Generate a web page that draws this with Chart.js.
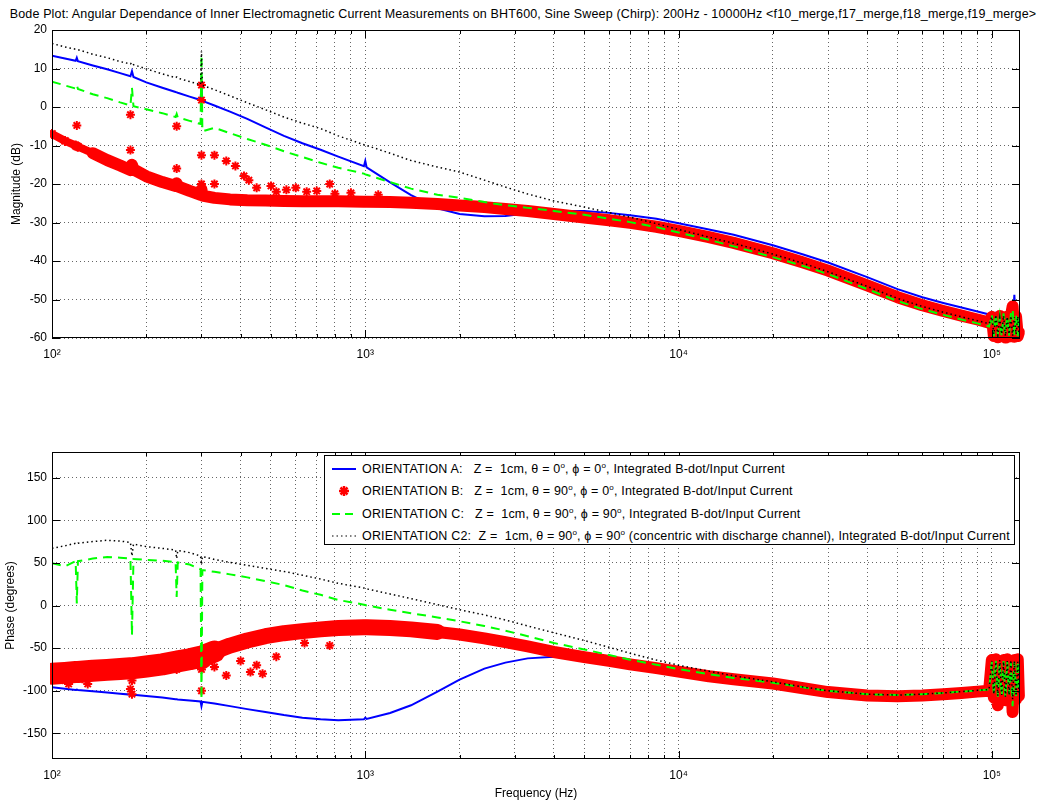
<!DOCTYPE html>
<html>
<head>
<meta charset="utf-8">
<script src="https://cdn.jsdelivr.net/npm/chart.js@4.4.1/dist/chart.umd.min.js"></script>
<style>
  html, body { margin: 0; padding: 0; background: #fff; }
  body { width: 1040px; height: 801px; position: relative; overflow: hidden;
         font-family: "Liberation Sans", Arial, sans-serif; color: #000; }
  #title { position: absolute; left: 0; top: 6px; width: 1046px; text-align: center;
           font-size: 12.5px; letter-spacing: 0.15px; line-height: 16px; white-space: nowrap; }
  #magWrap { position: absolute; left: 0; top: 0; }
  #phaseWrap { position: absolute; left: 0; top: 400px; }
  #legend { position: absolute; left: 324px; top: 455px; width: 691px; height: 90px;
            box-sizing: border-box; border: 1px solid #000; background: #fff; }
  #legend .row { position: absolute; left: 0; height: 22px; width: 100%; }
  #legend svg { position: absolute; left: 7px; top: 6px; }
  #legend span { position: absolute; left: 37px; top: 3px; font-size: 12.5px; letter-spacing: 0.18px;
                 line-height: 16px; white-space: pre; }
  #legend sup { font-size: 8px; line-height: 0; vertical-align: 5px; }
</style>
</head>
<body>
<div id="title">Bode Plot: Angular Dependance of Inner Electromagnetic Current Measurements on BHT600, Sine Sweep (Chirp): 200Hz - 10000Hz &lt;f10_merge,f17_merge,f18_merge,f19_merge&gt;</div>
<div id="magWrap"><canvas id="magChart" width="1040" height="400"></canvas></div>
<div id="phaseWrap"><canvas id="phaseChart" width="1040" height="401"></canvas></div>
<div id="legend"></div>

<script>
// Fréquences communes (Hz)
const freq = [100, 110, 119, 120, 121, 135, 150, 165, 178, 180, 182, 200, 225, 248, 250, 252, 275, 298, 300, 302,
  330, 370, 420, 480, 550, 630, 720, 820, 990, 1000, 1010, 1200, 1400, 1700, 2000, 2400, 2800, 3300, 4000, 5000,
  6000, 7000, 8500, 10000, 12500, 15000, 20000, 25000, 30000, 40000, 50000, 60000, 70000, 80000, 90000, 98000,
  100000, 101500, 103000, 104500, 106000, 107500, 109000, 110500, 112000, 113500, 115000, 116500, 118000, 119500, 121000, 122000];

// Magnitude (dB)
const magA = [13.3, 12.6, 12.0, 12.8, 11.9, 10.8, 9.8, 8.8, 8.0, 9.3, 7.8, 6.4, 5.0, 3.9, 3.8, 3.7, 2.7, 1.8, 5.6, 1.6,
  0.4, -1.2, -3.1, -5.3, -7.5, -9.4, -11.1, -12.9, -15.4, -14.0, -15.7, -19.6, -22.9, -26.3, -27.8, -28.4, -28.3, -27.6, -27.0, -27.0,
  -27.5, -28.1, -29.0, -30.2, -31.8, -33.2, -35.9, -38.3, -40.4, -44.2, -47.3, -49.4, -50.9, -52.1, -53.1, -53.9,
  -54.5, -57, -54.2, -56.5, -55, -57.5, -54.6, -56, -55, -57.2, -54.5, -56.8, -48.8, -57, -54.8, -56.5];
const magB = [-7.0, -8.8, -10.0, -10.2, -10.3, -12.0, -13.8, -15.2, -16.4, -15.0, -16.2, -18.0, -19.5, -20.5, -19.8, -20.6, -21.8, -22.8, -21.5, -23.0,
  -23.6, -24.0, -24.2, -24.3, -24.4, -24.5, -24.5, -24.5, -24.6, -24.6, -24.6, -24.7, -24.9, -25.2, -25.6, -26.0, -26.5, -27.0, -27.8, -28.7,
  -29.4, -30.1, -31.1, -32.2, -33.8, -35.3, -38.0, -40.4, -42.5, -46.3, -49.4, -51.5, -53.0, -54.2, -55.2, -56.0,
  -54.5, -59.5, -54.8, -59.8, -54.3, -59.5, -54.6, -59.9, -54.5, -59.6, -54.4, -51.8, -59.7, -54.5, -59.5, -58.5];
const magC = [6.6, 5.6, 4.8, 5.7, 4.7, 3.3, 2.3, 1.2, 0.4, 5.0, 0.2, -0.6, -1.6, -2.6, -1.8, -2.7, -3.6, -4.4, 13.5, -6.3,
  -5.4, -6.8, -8.3, -9.8, -11.5, -13.0, -14.5, -15.8, -17.3, -17.5, -17.6, -19.5, -21.2, -22.8, -23.6, -24.7, -25.5, -26.2, -27.0, -28.0,
  -29.0, -29.9, -31.2, -32.6, -34.5, -36.2, -39.0, -41.3, -43.4, -47.3, -50.4, -52.5, -54.0, -55.2, -56.2, -57.0,
  -54, -59.5, -53.8, -59, -54.5, -59.6, -53.6, -58.8, -54.2, -59.4, -53.9, -52.5, -59.2, -54, -59.5, -54.5];
const magC2 = [16.5, 15.6, 15.0, 15.0, 14.9, 13.7, 12.8, 11.8, 11.2, 11.6, 11.0, 9.9, 8.6, 7.6, 7.8, 7.5, 6.6, 5.8, 14.5, 5.6,
  4.5, 2.9, 1.1, -0.7, -2.6, -4.2, -5.6, -7.5, -9.8, -10.0, -10.0, -12.0, -13.9, -15.6, -16.9, -19.0, -20.8, -22.6, -24.4, -26.0,
  -27.4, -28.6, -30.3, -31.8, -33.8, -35.4, -38.2, -40.6, -42.8, -46.6, -49.7, -51.8, -53.3, -54.5, -55.5, -56.3,
  -54.5, -59, -54, -59.3, -54.8, -59, -54.2, -59.5, -54.5, -59, -54.3, -59.4, -54.6, -59, -54.4, -58.8];

// Phase (degrés)
const phA = [-96, -97.5, -99, -98.5, -99, -100.5, -102, -103.5, -104.5, -103, -104.8, -106, -108, -110, -110, -110.2, -111.5, -112.5, -118, -113,
  -115, -118, -121.5, -125, -128.5, -131.5, -133.5, -134.5, -133.5, -131.5, -133, -126, -117, -101, -87, -74, -67, -62, -60, -61.5,
  -65, -68.5, -73, -77, -82, -86, -91, -96.5, -100.8, -104.8, -105.8, -104.8, -103.3, -101.8, -100.3, -99.2,
  -70, -100, -68, -102, -72, -104, -70, -103, -71, -101, -69, -112, -70, -104, -71, -100];
const phB = [-80, -79, -78, -78, -78, -76.5, -75.5, -74.5, -73.5, -74, -73.5, -71.5, -69, -66, -66, -65.5, -63, -60, -62, -59.5,
  -54, -47, -41, -36, -32.5, -30, -28, -26.5, -25.5, -25.5, -25.5, -26.5, -28, -31, -34, -38.5, -43, -48, -54.5, -60.5,
  -65, -69, -73.5, -77.5, -83, -86.5, -91.5, -97, -101.5, -105.5, -106.5, -105.5, -104, -102.5, -101, -100,
  -64, -108, -63, -117, -65, -109, -64, -111, -63, -110, -65, -125, -64, -110, -63, -106];
const phC = [49.5, 46, 52, 2.5, 52, 55, 57, 56, 55, -35, 54.5, 53.5, 52.5, 51, 10, 50.5, 48, 42.5, -110, 41.5,
  39.5, 36.5, 33, 28.5, 24, 17.5, 12.5, 6.5, 1, 0.5, 0, -5, -9, -14, -18.5, -24, -29.5, -36, -44, -51.5,
  -58, -63.5, -69.5, -74.5, -80.5, -85, -90.5, -96, -100, -104, -105, -104, -102.5, -101, -99.5, -98.5,
  -66, -105, -65, -107, -67, -106, -65, -108, -66, -104, -67, -118, -66, -106, -65, -100];
const phC2 = [67, 70, 73, 72, 73, 75, 76.5, 75.5, 74, 58, 72, 69, 67, 65, 55, 64.5, 62, 58, 48, 57.5,
  54, 50.5, 47, 43.5, 40, 35.5, 31, 26, 20.5, 20, 19.5, 13.5, 8, 1, -5, -11, -17, -24, -32, -41,
  -49, -56, -64, -70, -77, -82.5, -89.5, -95.5, -100, -104, -105, -104, -102.5, -101, -99.5, -98.5,
  -65, -104, -66, -106, -64, -105, -66, -107, -65, -105, -64, -110, -65, -106, -66, -102];

// Points isolés de l'orientation B
const bOutMagF = [120, 178, 178, 250, 250, 300, 300, 300, 300, 330, 330, 360, 385, 410, 425, 450, 500, 520, 560, 600, 650, 700, 770, 800, 900, 1100];
const bOutMagV = [-4.8, -2.0, -11.2, -5.0, -16.0, 5.7, 1.8, -12.5, -20.0, -12.5, -20.0, -14.0, -15.3, -17.9, -19.0, -21.0, -20.5, -22.0, -21.5, -21.0, -22.0, -21.8, -20.0, -22.5, -22.3, -22.8];
const bOutPhF = [106, 110, 113, 125, 130, 178, 180, 180, 250, 300, 300, 330, 360, 400, 430, 450, 470, 520, 640, 770];
const bOutPhV = [-86, -88, -92, -86, -92, -98, -88, -104, -75, -75, -100, -72, -82, -65, -78, -70, -80, -60, -44, -47];

// Axes
const xDecades = [100, 1000, 10000, 100000];
const xDecadeLabels = ['10²', '10³', '10⁴', '10⁵'];
const magTicks = [-60, -50, -40, -30, -20, -10, 0, 10, 20];
const phaseTicks = [-150, -100, -50, 0, 50, 100, 150];

const legendText = [
  'ORIENTATION A:   Z =  1cm, θ = 0^o, ϕ = 0^o, Integrated B-dot/Input Current',
  'ORIENTATION B:   Z =  1cm, θ = 90^o, ϕ = 0^o, Integrated B-dot/Input Current',
  'ORIENTATION C:   Z =  1cm, θ = 90^o, ϕ = 90^o, Integrated B-dot/Input Current',
  'ORIENTATION C2:  Z =  1cm, θ = 90^o, ϕ = 90^o (concentric with discharge channel), Integrated B-dot/Input Current'
];

const gridFreqs = [];
xDecades.forEach(d => {
  for (let k = 1; k <= 9; k++) if (d * k <= 123000) gridFreqs.push(d * k);
});

Chart.defaults.font.family = '"Liberation Sans", Arial, sans-serif';
Chart.defaults.font.size = 12;
Chart.defaults.color = '#000';

const pts = vals => freq.map((f, i) => ({ x: f, y: vals[i] }));

// cadre + graduations intérieures façon Matlab
const axesBox = {
  id: 'axesBox',
  afterDatasetsDraw(chart) {
    const { ctx, chartArea: a, scales } = chart;
    ctx.save();
    ctx.strokeStyle = '#000';
    ctx.lineWidth = 1;
    ctx.beginPath();
    scales.x.ticks.forEach(t => {
      const px = Math.round(scales.x.getPixelForValue(t.value)) + 0.5;
      const len = xDecades.includes(t.value) ? 8 : 4;
      ctx.moveTo(px, a.bottom); ctx.lineTo(px, a.bottom - len);
      ctx.moveTo(px, a.top); ctx.lineTo(px, a.top + len);
    });
    scales.y.ticks.forEach(t => {
      const py = Math.round(scales.y.getPixelForValue(t.value)) + 0.5;
      ctx.moveTo(a.left, py); ctx.lineTo(a.left + 8, py);
      ctx.moveTo(a.right, py); ctx.lineTo(a.right - 8, py);
    });
    ctx.stroke();
    ctx.strokeRect(Math.round(a.left) + 0.5, Math.round(a.top) + 0.5,
      Math.round(a.right - a.left) - 1, Math.round(a.bottom - a.top) - 1);
    ctx.restore();
  }
};

const redClip = { left: 2, top: 10, right: 12, bottom: 10 };

function makeDatasets(a, b, c, c2, outF, outV, redWidth) {
  return [
    { data: pts(c2), borderColor: '#000000', borderWidth: 1.5, borderDash: [1.5, 3], pointRadius: 0, order: 1 },
    { data: pts(c), borderColor: '#00ff00', borderWidth: 2, borderDash: [9, 6], pointRadius: 0, order: 2 },
    {
      data: pts(b), borderColor: '#ff0000', borderWidth: 12,
      segment: { borderWidth: redWidth },
      borderJoinStyle: 'round', borderCapStyle: 'round',
      pointStyle: 'star', pointRadius: 5, pointBorderWidth: 2,
      pointBorderColor: '#ff0000', pointBackgroundColor: '#ff0000',
      clip: redClip, order: 3
    },
    {
      data: outF.map((f, i) => ({ x: f, y: outV[i] })), showLine: false,
      pointStyle: 'star', pointRadius: 4.5, pointBorderWidth: 2,
      pointBorderColor: '#ff0000', pointBackgroundColor: '#ff0000',
      clip: redClip, order: 3
    },
    { data: pts(a), borderColor: '#0000ff', borderWidth: 2, pointRadius: 0, order: 4 }
  ];
}

function makeOptions(cfg) {
  return {
    responsive: false,
    animation: false,
    events: [],
    layout: { padding: { left: 0, right: 20, top: cfg.padTop, bottom: 0 } },
    plugins: { legend: { display: false }, tooltip: { enabled: false } },
    scales: {
      x: {
        type: 'logarithmic', min: 100, max: 123000,
        afterBuildTicks: s => { s.ticks = gridFreqs.map(v => ({ value: v })); },
        afterFit: s => { s.height = cfg.xHeight; },
        ticks: {
          autoSkip: false, maxRotation: 0, padding: 9, font: { size: 12 },
          callback: v => {
            const k = xDecades.indexOf(v);
            return k >= 0 ? xDecadeLabels[k] : '';
          }
        },
        grid: { color: 'rgba(0,0,0,0.6)', drawTicks: false },
        border: { display: false, dash: [1, 3] },
        title: {
          display: !!cfg.xTitle, text: cfg.xTitle || '',
          font: { size: 12 }, padding: { top: 2.8, bottom: 0 }
        }
      },
      y: {
        min: cfg.yMin, max: cfg.yMax,
        afterBuildTicks: s => { s.ticks = cfg.yTicks.map(v => ({ value: v })); },
        afterFit: s => { s.width = 52; },
        ticks: { padding: 5, font: { size: 12 } },
        grid: { color: 'rgba(0,0,0,0.6)', drawTicks: false },
        border: { display: false, dash: [1, 3] },
        title: {
          display: true, text: cfg.yTitle,
          font: { size: 12 }, padding: { top: cfg.yTitlePad, bottom: 0 }
        }
      }
    }
  };
}

// Magnitude
new Chart(document.getElementById('magChart').getContext('2d'), {
  type: 'line',
  data: {
    datasets: makeDatasets(magA, magB, magC, magC2, bOutMagF, bOutMagV,
      ctx => (ctx.p0.parsed.x < 130 ? 8 : 12))
  },
  options: makeOptions({ padTop: 30, xHeight: 62, yMin: -60, yMax: 20, yTicks: magTicks,
    yTitle: 'Magnitude (dB)', yTitlePad: 9.8 }),
  plugins: [axesBox]
});

// Phase
new Chart(document.getElementById('phaseChart').getContext('2d'), {
  type: 'line',
  data: {
    datasets: makeDatasets(phA, phB, phC, phC2, bOutPhF, bOutPhV,
      ctx => (ctx.p0.parsed.x < 330 ? 22 : ctx.p0.parsed.x < 1500 ? 16 : 12))
  },
  options: makeOptions({ padTop: 52, xHeight: 42, yMin: -180, yMax: 180, yTicks: phaseTicks,
    yTitle: 'Phase (degrees)', yTitlePad: 3.8, xTitle: 'Frequency (Hz)' }),
  plugins: [axesBox]
});

// Légende
const samples = [
  '<line x1="0" y1="5" x2="24" y2="5" stroke="#0000ff" stroke-width="2"/>',
  '<g stroke="#ff0000" stroke-width="2.5"><line x1="12" y1="0" x2="12" y2="10"/><line x1="7" y1="5" x2="17" y2="5"/>' +
    '<line x1="8.5" y1="1.5" x2="15.5" y2="8.5"/><line x1="15.5" y1="1.5" x2="8.5" y2="8.5"/></g>',
  '<line x1="0" y1="5" x2="24" y2="5" stroke="#00ff00" stroke-width="2" stroke-dasharray="8 5"/>',
  '<line x1="0" y1="5" x2="24" y2="5" stroke="#000" stroke-width="1.2" stroke-dasharray="1.5 3"/>'
];
const legend = document.getElementById('legend');
legendText.forEach((txt, i) => {
  const row = document.createElement('div');
  row.className = 'row';
  row.style.top = (2 + i * 22.3) + 'px';
  row.innerHTML = '<svg width="26" height="10">' + samples[i] + '</svg><span>' +
    txt.replace(/\^o/g, '<sup>o</sup>') + '</span>';
  legend.appendChild(row);
});
</script>
</body>
</html>
